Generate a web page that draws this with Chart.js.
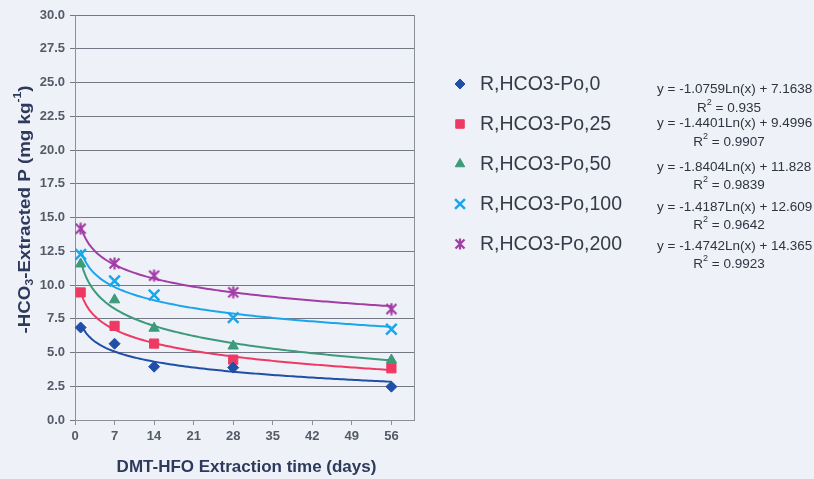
<!DOCTYPE html>
<html>
<head>
<meta charset="utf-8">
<script src="https://cdn.jsdelivr.net/npm/chart.js@4.4.1/dist/chart.umd.min.js"></script>
<style>
  html, body { margin: 0; padding: 0; background: #eef1f8; }
  #wrap { width: 814px; height: 479px; position: relative; }
</style>
</head>
<body>
<div id="wrap"><canvas id="c" width="814" height="479"></canvas></div>
<script>
// Extraction days and measured P for each Po level
const days = [1, 7, 14, 28, 56];
const seriesNames = ['R,HCO3-Po,0', 'R,HCO3-Po,25', 'R,HCO3-Po,50', 'R,HCO3-Po,100', 'R,HCO3-Po,200'];
const po0   = [6.85, 5.65, 3.95, 3.88, 2.47];
const po25  = [9.45, 6.97, 5.66, 4.47, 3.83];
const po50  = [11.56, 8.90, 6.80, 5.48, 4.44];
const po100 = [12.27, 10.30, 9.26, 7.58, 6.72];
const po200 = [14.17, 11.60, 10.69, 9.46, 8.22];
// Logarithmic trendline coefficients: y = slope*ln(x) + intercept
const slopes     = [-1.0759, -1.4401, -1.8404, -1.4187, -1.4742];
const intercepts = [7.1638, 9.4996, 11.828, 12.609, 14.365];
const rSquared   = ['0.935', '0.9907', '0.9839', '0.9642', '0.9923'];
const eqTexts    = ['-1.0759Ln(x) + 7.1638', '-1.4401Ln(x) + 9.4996', '-1.8404Ln(x) + 11.828',
                    '-1.4187Ln(x) + 12.609', '-1.4742Ln(x) + 14.365'];
const xTicks = [0, 7, 14, 21, 28, 35, 42, 49, 56];
const yTicks = [0, 2.5, 5, 7.5, 10, 12.5, 15, 17.5, 20, 22.5, 25, 27.5, 30];

const colors = ['#1f4fa6', '#ee3a63', '#3b9b7a', '#1aa6ea', '#a23da6'];
const values = [po0, po25, po50, po100, po200];

// Excel-style star marker: an X with a vertical stroke
function starCanvas(color, size) {
  const c = document.createElement('canvas');
  c.width = size; c.height = size;
  const g = c.getContext('2d');
  const m = 1.5, e = size - 1.5, h = size / 2;
  g.strokeStyle = color; g.lineWidth = 2.2; g.lineCap = 'butt';
  g.beginPath();
  g.moveTo(m, m); g.lineTo(e, e);
  g.moveTo(e, m); g.lineTo(m, e);
  g.moveTo(h, 0.5); g.lineTo(h, size - 0.5);
  g.stroke();
  return c;
}
const pointStyles = ['rectRot', 'rect', 'triangle', 'crossRot', starCanvas(colors[4], 13)];
const pointRadii = [5.5, 6.5, 6, 7.5, 6];
const legendStar = starCanvas(colors[4], 12);

const datasets = [];
values.forEach((vals, i) => {
  const curve = [];
  for (let x = 1; x <= 56; x += 0.5) {
    curve.push({ x: x, y: slopes[i] * Math.log(x) + intercepts[i] });
  }
  datasets.push({
    label: seriesNames[i] + ' trend',
    data: curve,
    showLine: true,
    borderColor: colors[i],
    borderWidth: 2,
    pointRadius: 0,
    fill: false,
    order: 2
  });
  datasets.push({
    label: seriesNames[i],
    data: days.map((d, k) => ({ x: d, y: vals[k] })),
    showLine: false,
    pointStyle: pointStyles[i],
    pointRadius: pointRadii[i],
    backgroundColor: colors[i],
    borderColor: colors[i],
    borderWidth: i === 3 ? 2.5 : 1,
    order: 1
  });
});

const FONT = '"Liberation Sans", Arial, sans-serif';

// Plot frame, axis titles, legend and trendline equations
const decor = {
  id: 'decor',
  afterDraw(chart) {
    const ctx = chart.ctx;
    const a = chart.chartArea;
    ctx.save();
    // right edge of plot
    ctx.strokeStyle = '#8a8f9a';
    ctx.lineWidth = 1;
    ctx.beginPath();
    ctx.moveTo(Math.round(a.right) + 0.5, a.top);
    ctx.lineTo(Math.round(a.right) + 0.5, a.bottom);
    ctx.stroke();

    // x title
    ctx.fillStyle = '#2e3a5c';
    ctx.font = 'bold 17px ' + FONT;
    ctx.textAlign = 'center';
    ctx.textBaseline = 'middle';
    ctx.fillText('DMT-HFO Extraction time (days)', (a.left + a.right) / 2 + 2, 467);

    // y title with subscript and superscript
    const parts = [
      { t: '-HCO', f: 'bold 17px ', dy: 0 },
      { t: '3', f: 'bold 11px ', dy: 5 },
      { t: '-Extracted P (mg kg', f: 'bold 17px ', dy: 0 },
      { t: '-1', f: 'bold 11px ', dy: -7 },
      { t: ')', f: 'bold 17px ', dy: 0 }
    ];
    let total = 0;
    parts.forEach(p => { ctx.font = p.f + FONT; p.w = ctx.measureText(p.t).width; total += p.w; });
    const stretch = 248 / total;
    ctx.translate(25, (a.top + a.bottom) / 2 - 8);
    ctx.rotate(-Math.PI / 2);
    ctx.scale(stretch, 1);
    ctx.textAlign = 'left';
    let px = -total / 2;
    parts.forEach(p => {
      ctx.font = p.f + FONT;
      ctx.fillText(p.t, px, p.dy);
      px += p.w;
    });
    ctx.setTransform(1, 0, 0, 1, 0, 0);

    // legend
    const legendY = [84, 124, 164, 204, 244];
    const legendR = [5, 6, 5.5, 7, 6];
    seriesNames.forEach((name, i) => {
      const ds = chart.data.datasets[i * 2 + 1];
      ctx.fillStyle = colors[i];
      ctx.strokeStyle = colors[i];
      ctx.lineWidth = ds.borderWidth;
      Chart.helpers.drawPoint(ctx, {
        pointStyle: i === 4 ? legendStar : ds.pointStyle,
        radius: legendR[i],
        rotation: 0,
        borderWidth: ds.borderWidth
      }, 460, legendY[i]);
      ctx.fillStyle = '#353b48';
      ctx.font = '19.5px ' + FONT;
      ctx.textAlign = 'left';
      ctx.textBaseline = 'middle';
      ctx.fillText(name, 480, legendY[i] + 1);
    });
    ctx.restore();

    // equations
    ctx.save();
    const eqY = [89, 123, 167, 207, 246];
    const rY = [108, 142, 185, 225, 264];
    ctx.fillStyle = '#2f3440';
    ctx.textBaseline = 'middle';
    eqTexts.forEach((t, i) => {
      ctx.font = '13.5px ' + FONT;
      ctx.textAlign = 'left';
      ctx.fillText('y = ' + t, 657, eqY[i]);
      // R² line centred under the equation
      const r1 = 'R', r3 = ' = ' + rSquared[i];
      const w1 = ctx.measureText(r1).width, w3 = ctx.measureText(r3).width;
      ctx.font = '9px ' + FONT;
      const w2 = ctx.measureText('2').width;
      let sx = 729 - (w1 + w2 + w3) / 2;
      ctx.font = '13.5px ' + FONT;
      ctx.fillText(r1, sx, rY[i]);
      ctx.font = '9px ' + FONT;
      ctx.fillText('2', sx + w1, rY[i] - 5);
      ctx.font = '13.5px ' + FONT;
      ctx.fillText(r3, sx + w1 + w2, rY[i]);
    });
    ctx.restore();
  }
};

new Chart(document.getElementById('c'), {
  type: 'scatter',
  data: { datasets: datasets },
  plugins: [decor],
  options: {
    responsive: false,
    animation: false,
    layout: { padding: { top: 15, right: 400, left: 0, bottom: 0 } },
    plugins: { legend: { display: false }, tooltip: { enabled: false } },
    scales: {
      x: {
        type: 'linear',
        min: 0,
        max: 60,
        afterBuildTicks(scale) { scale.ticks = xTicks.map(v => ({ value: v })); },
        afterFit(scale) { scale.height = 59; },
        ticks: {
          font: { family: FONT, size: 13, weight: 'bold' },
          color: '#555a66',
          padding: 4,
          maxRotation: 0
        },
        grid: { drawOnChartArea: false, color: '#8a8f9a', tickLength: 5 },
        border: { color: '#8a8f9a', width: 1 }
      },
      y: {
        type: 'linear',
        min: 0,
        max: 30,
        afterBuildTicks(scale) { scale.ticks = yTicks.map(v => ({ value: v })); },
        afterFit(scale) { scale.width = 75; },
        ticks: {
          font: { family: FONT, size: 13, weight: 'bold' },
          color: '#555a66',
          padding: 5,
          callback: v => v.toFixed(1)
        },
        grid: { color: '#737884', lineWidth: 1, tickLength: 5 },
        border: { color: '#8a8f9a', width: 1 }
      }
    }
  }
});
</script>
</body>
</html>
